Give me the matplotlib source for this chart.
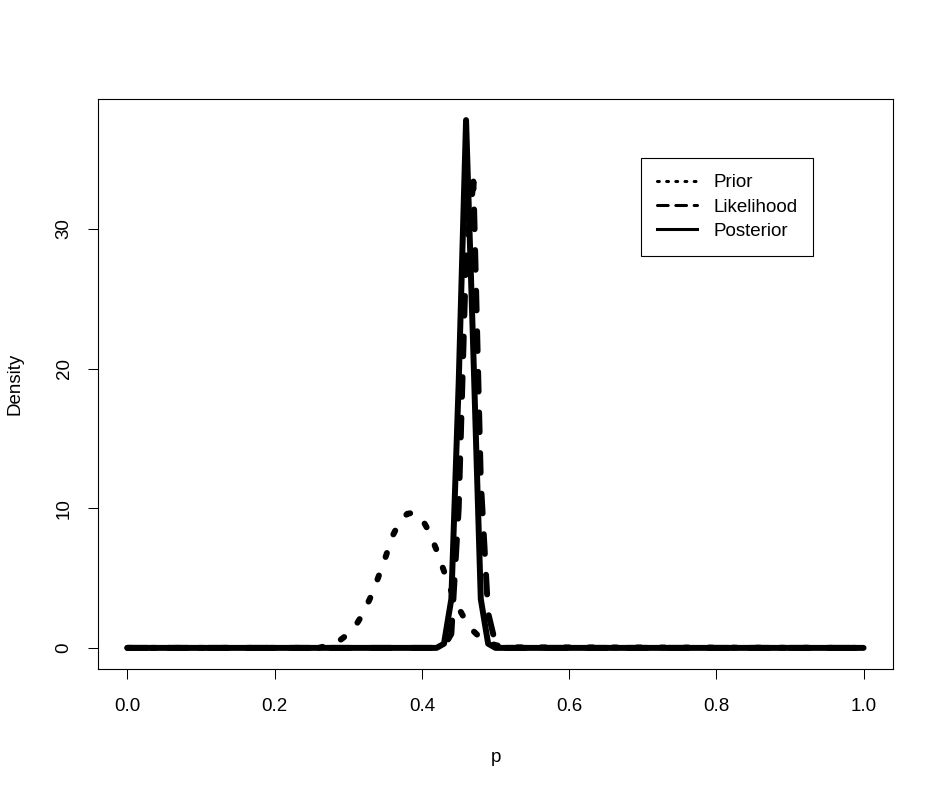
import matplotlib
matplotlib.use("Agg")
import matplotlib.pyplot as plt
from matplotlib.lines import Line2D

plt.rcParams['font.family'] = ['Liberation Sans', 'DejaVu Sans']

# ---- data ----
prior_p = [0.0, 0.26, 0.27, 0.28, 0.29, 0.30, 0.31, 0.32, 0.33, 0.34, 0.35, 0.36,
           0.37, 0.38, 0.39, 0.40, 0.41, 0.42, 0.43, 0.44, 0.45, 0.46, 0.47, 0.48,
           0.49, 0.50, 0.51, 0.52, 1.0]
prior_d = [0.0, 0.0, 0.15, 0.32, 0.6, 1.0, 1.6, 2.45, 3.6, 4.95, 6.4, 8.0,
           9.05, 9.6, 9.7, 9.25, 8.3, 7.0, 5.5, 4.05, 2.85, 1.9, 1.2, 0.7,
           0.38, 0.2, 0.09, 0.04, 0.0]

lik_p = [0.0, 0.42, 0.43, 0.44, 0.45, 0.46, 0.47, 0.48, 0.49, 0.50, 0.51, 1.0]
lik_d = [0.0, 0.0, 0.1, 1.0, 10.0, 28.0, 33.4, 12.0, 2.5, 0.3, 0.0, 0.0]

post_p = [0.0, 0.42, 0.43, 0.44, 0.45, 0.46, 0.47, 0.48, 0.49, 0.50, 1.0]
post_d = [0.0, 0.0, 0.3, 3.5, 19.0, 37.8, 21.0, 3.5, 0.3, 0.0, 0.0]

xticks = [0.0, 0.2, 0.4, 0.6, 0.8, 1.0]
yticks = [0, 10, 20, 30]
labels = ["Prior", "Likelihood", "Posterior"]

# ---- figure ----
W, H = 944, 793
fig = plt.figure(figsize=(W / 100, H / 100), dpi=100)
L, R, T, B = 98, 893, 99, 669
ax = fig.add_axes([L / W, 1 - B / H, (R - L) / W, (B - T) / H])

lw = 4.3
ax.plot(prior_p, prior_d, color='black', lw=lw, linestyle=(0, (0.7, 3.3)),
        dash_capstyle='round', solid_capstyle='round')
ax.plot(lik_p, lik_d, color='black', lw=lw, linestyle=(0, (3.3, 3.5)),
        dash_capstyle='round', solid_capstyle='round')
ax.plot(post_p, post_d, color='black', lw=lw, solid_capstyle='round')

ymax = max(post_d)
ax.set_xlim(-0.04, 1.04)
ax.set_ylim(-0.04 * ymax, 1.04 * ymax)

fs = 13.5
ax.set_xticks(xticks)
ax.set_xticklabels([f"{v:.1f}" for v in xticks], fontsize=fs)
ax.set_yticks(yticks)
ax.set_yticklabels([str(v) for v in yticks], fontsize=fs, rotation=90, va='center')
ax.tick_params(direction='out', length=7.2, width=0.75, colors='black')
ax.tick_params(axis='x', pad=14)
ax.tick_params(axis='y', pad=11)
for s in ax.spines.values():
    s.set_linewidth(0.8)
    s.set_color('black')

ax.set_xlabel("p", fontsize=fs)
ax.set_ylabel("Density", fontsize=fs)
ax.xaxis.set_label_coords(0.5, (B - 757) / (B - T))
ax.yaxis.set_label_coords((15 - L) / (R - L), 0.5)
ax.xaxis.label.set_va('center')
ax.yaxis.label.set_va('center')

handles = [
    Line2D([], [], color='black', lw=2.2, linestyle=(0, (0.6, 2.4)), dash_capstyle='round'),
    Line2D([], [], color='black', lw=2.2, linestyle=(0, (3.5, 2.5)), dash_capstyle='round'),
    Line2D([], [], color='black', lw=2.2),
]
leg = ax.legend(handles, labels, loc='upper left', bbox_to_anchor=(0.698, 35.07),
                bbox_transform=ax.transData, fontsize=fs, frameon=True, fancybox=False,
                edgecolor='black', framealpha=1, borderaxespad=0, borderpad=0.85,
                handlelength=2.13, handletextpad=0.85, labelspacing=0.38)
leg.get_frame().set_linewidth(0.8)

fig.savefig("out.png", dpi=100)
